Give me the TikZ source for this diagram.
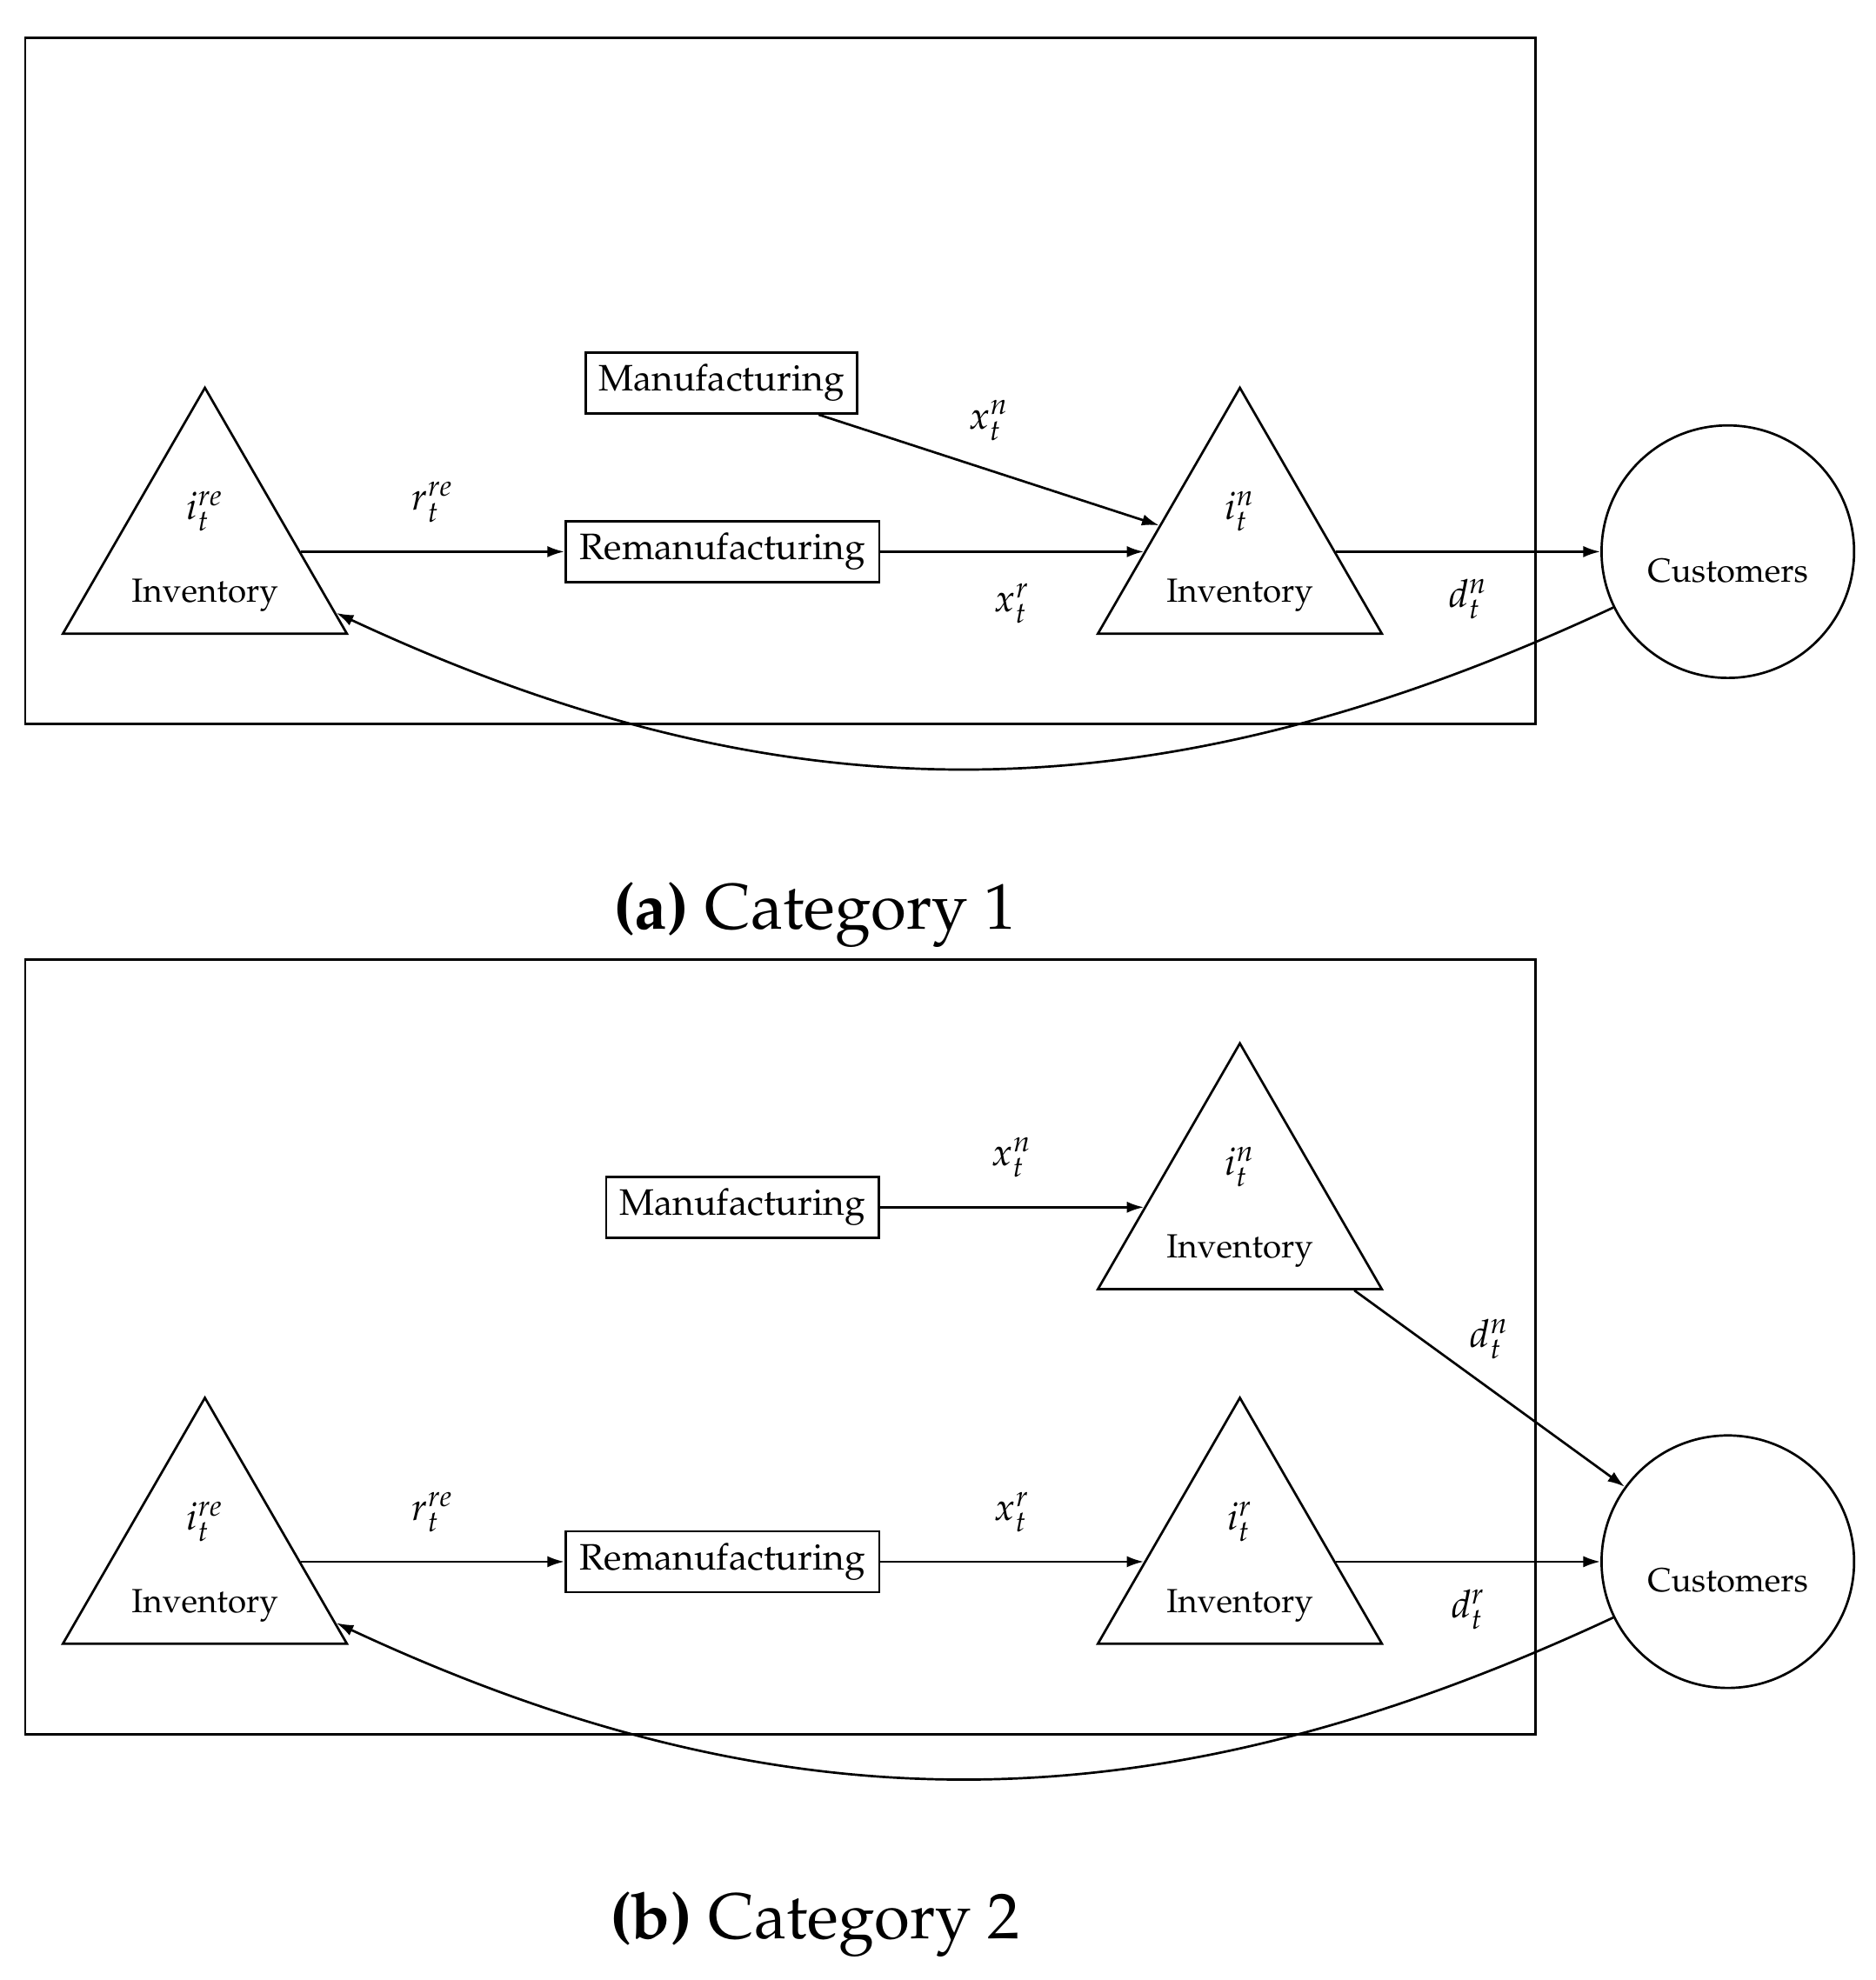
\documentclass[tikz,border=0pt]{standalone}
\usepackage[T1]{fontenc}
\usepackage{mathpazo}
\usepackage{tikz}
\usetikzlibrary{shapes.geometric, arrows.meta, positioning, calc}

\begin{document}
\begin{tikzpicture}[
    line width=0.7pt,
    >={Latex[length=1.8mm, width=1.2mm]},
    stock/.style={regular polygon, regular polygon sides=3, draw, minimum size=3.44cm, inner sep=0pt},
    proc/.style={rectangle, draw, minimum height=0.64cm, font=\fontsize{11}{13}\selectfont},
    market/.style={circle, draw, minimum size=2.65cm, inner sep=0pt},
    tag/.style={font=\fontsize{10}{12}\selectfont},
    qty/.style={font=\fontsize{11.5}{14}\selectfont},
    capt/.style={font=\fontsize{19.3}{23}\selectfont},
    return/.style={out=205, in=-25, looseness=1},
]
    \useasboundingbox (0,0) rectangle (19.68,20.78);

    % (a) Category 1
    \draw (0.265,13.18) rectangle (16.11,20.38);
    \node[stock] (invreA) at (2.15,14.99) {};
    \node[proc, minimum width=2.85cm] (manufA) at (7.57,16.76) {Manufacturing};
    \node[proc, minimum width=3.29cm] (remanA) at (7.58,14.99) {Remanufacturing};
    \node[stock] (invnA) at (13.01,14.99) {};
    \node[market] (custA) at (18.13,14.99) {};

    \node[qty] (symreA) at ([yshift=0.42cm]invreA.center) {$i_t^{re}$};
    \node[tag] (txtreA) at ([yshift=-0.46cm]invreA.center) {Inventory};
    \node[qty] (symnA) at ([yshift=0.42cm]invnA.center) {$i_t^{n}$};
    \node[tag] (txtnA) at ([yshift=-0.46cm]invnA.center) {Inventory};
    \node[tag] (txtcA) at ([yshift=-0.2cm]custA.center) {Customers};

    \draw[->] (invreA) -- node[qty, midway, yshift=0.52cm] (flowreA) {$r_t^{re}$} (remanA);
    \draw[->] (remanA) -- node[qty, midway, yshift=-0.54cm] (flowrA) {$x_t^{r}$} (invnA);
    \draw[->] (manufA) -- node[qty, midway, yshift=0.52cm] (flownA) {$x_t^{n}$} (invnA);
    \draw[->] (invnA) -- node[qty, midway, yshift=-0.5cm] (flowdA) {$d_t^{n}$} (custA);
    \draw[->] (custA.206) to[return] (invreA.-25);

    \node[capt] (captA) at (8.55,11.18) {\textbf{(a)} Category 1};

    % (b) Category 2
    \draw (0.265,2.58) rectangle (16.11,10.71);
    \node[proc, minimum width=2.86cm] (manufB) at (7.79,8.11) {Manufacturing};
    \node[stock] (invnB) at (13.01,8.11) {};
    \node[stock] (invreB) at (2.15,4.39) {};
    \node[proc, minimum width=3.29cm] (remanB) at (7.58,4.39) {Remanufacturing};
    \node[stock] (invrB) at (13.01,4.39) {};
    \node[market] (custB) at (18.13,4.39) {};

    \node[qty] (symnB) at ([yshift=0.42cm]invnB.center) {$i_t^{n}$};
    \node[tag] (txtnB) at ([yshift=-0.46cm]invnB.center) {Inventory};
    \node[qty] (symreB) at ([yshift=0.42cm]invreB.center) {$i_t^{re}$};
    \node[tag] (txtreB) at ([yshift=-0.46cm]invreB.center) {Inventory};
    \node[qty] (symrB) at ([yshift=0.42cm]invrB.center) {$i_t^{r}$};
    \node[tag] (txtrB) at ([yshift=-0.46cm]invrB.center) {Inventory};
    \node[tag] (txtcB) at ([yshift=-0.2cm]custB.center) {Customers};

    \draw[->] (manufB) -- node[qty, midway, yshift=0.52cm] (flownB) {$x_t^{n}$} (invnB);
    \draw[->] (invnB) -- node[qty, midway, yshift=0.52cm] (flowdnB) {$d_t^{n}$} (custB);
    \draw[->] (invreB) -- node[qty, midway, yshift=0.52cm] (flowreB) {$r_t^{re}$} (remanB);
    \draw[->] (remanB) -- node[qty, midway, yshift=0.52cm] (flowrB) {$x_t^{r}$} (invrB);
    \draw[->] (invrB) -- node[qty, midway, yshift=-0.5cm] (flowdrB) {$d_t^{r}$} (custB);
    \draw[->] (custB.206) to[return] (invreB.-25);

    \node[capt] (captB) at (8.55,0.58) {\textbf{(b)} Category 2};
\end{tikzpicture}
\end{document}
